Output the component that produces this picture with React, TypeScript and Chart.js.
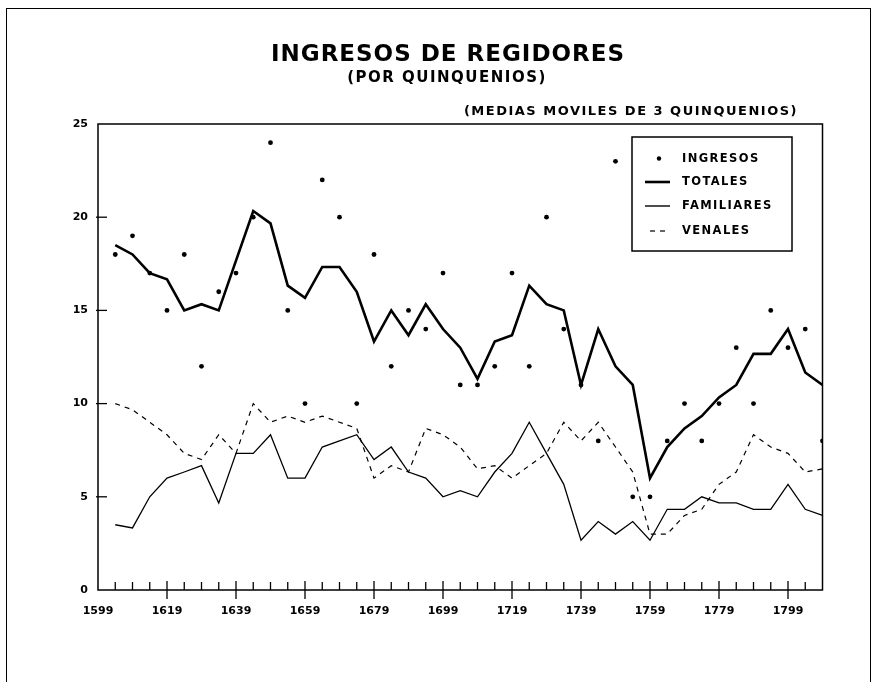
import React, { useEffect, useRef } from "react";
import { Chart, registerables } from "chart.js";

Chart.register(...registerables);

// Quinquennium end-years plotted on the x axis
const years = [
  1604, 1609, 1614, 1619, 1624, 1629, 1634, 1639, 1644, 1649, 1654, 1659, 1664, 1669,
  1674, 1679, 1684, 1689, 1694, 1699, 1704, 1709, 1714, 1719, 1724, 1729, 1734, 1739,
  1744, 1749, 1754, 1759, 1764, 1769, 1774, 1779, 1784, 1789, 1794, 1799, 1804, 1809,
];

// INGRESOS (dots)
const ingresos = [
  18, 19, 17, 15, 18, 12, 16, 17, 20, 24, 15, 10, 22, 20,
  10, 18, 12, 15, 14, 17, 11, 11, 12, 17, 12, 20, 14, 11,
  8, 23, 5, 5, 8, 10, 8, 10, 13, 10, 15, 13, 14, 8,
];

// TOTALES (thick line)
const totales = [
  18.5, 18, 17, 16.67, 15, 15.33, 15, 17.67, 20.33, 19.67, 16.33, 15.67, 17.33, 17.33,
  16, 13.33, 15, 13.67, 15.33, 14, 13, 11.33, 13.33, 13.67, 16.33, 15.33, 15, 11,
  14, 12, 11, 6, 7.67, 8.67, 9.33, 10.33, 11, 12.67, 12.67, 14, 11.67, 11,
];

// FAMILIARES (thin line)
const familiares = [
  3.5, 3.33, 5, 6, 6.33, 6.67, 4.67, 7.33, 7.33, 8.33, 6, 6, 7.67, 8,
  8.33, 7, 7.67, 6.33, 6, 5, 5.33, 5, 6.33, 7.33, 9, 7.33, 5.67, 2.67,
  3.67, 3, 3.67, 2.67, 4.33, 4.33, 5, 4.67, 4.67, 4.33, 4.33, 5.67, 4.33, 4,
];

// VENALES (dashed line)
const venales = [
  10, 9.67, 9, 8.33, 7.33, 7, 8.33, 7.33, 10, 9, 9.33, 9, 9.33, 9,
  8.67, 6, 6.67, 6.33, 8.67, 8.33, 7.67, 6.5, 6.67, 6, 6.67, 7.33, 9, 8,
  9, 7.67, 6.33, 3, 3, 4, 4.33, 5.67, 6.33, 8.33, 7.67, 7.33, 6.33, 6.5,
];

const xMin = 1599;
const xMax = 1809;
const xLabelYears = [1599, 1619, 1639, 1659, 1679, 1699, 1719, 1739, 1759, 1779, 1799];
const yTickValues = [0, 5, 10, 15, 20, 25];

const titleText = "INGRESOS DE REGIDORES";
const subtitleText = "(POR QUINQUENIOS)";
const noteText = "(MEDIAS MOVILES DE 3 QUINQUENIOS)";
const legendLabels = ["INGRESOS", "TOTALES", "FAMILIARES", "VENALES"];

const FONT = "'DejaVu Sans', 'Liberation Sans', sans-serif";

const decorPlugin = {
  id: "decor",
  afterDraw(chart: any) {
    const { ctx, chartArea: a, scales } = chart;
    const xs = scales.x;
    const ys = scales.y;
    ctx.save();
    ctx.strokeStyle = "#000";
    ctx.fillStyle = "#000";

    // outer frame
    ctx.lineWidth = 1;
    ctx.strokeRect(6.5, 8.5, 864, 720);

    // plot box
    ctx.lineWidth = 1.5;
    ctx.strokeRect(a.left, a.top, a.right - a.left, a.bottom - a.top);

    // x ticks (every quinquennium)
    ctx.lineWidth = 1.3;
    for (let v = xMin + 5; v < xMax; v += 5) {
      const px = xs.getPixelForValue(v);
      ctx.beginPath();
      if (xLabelYears.includes(v)) {
        ctx.moveTo(px, a.bottom - 9);
        ctx.lineTo(px, a.bottom + 9);
      } else {
        ctx.moveTo(px, a.bottom - 8);
        ctx.lineTo(px, a.bottom);
      }
      ctx.stroke();
    }
    // y ticks
    for (const v of yTickValues) {
      if (v === 0 || v === 25) continue;
      const py = ys.getPixelForValue(v);
      ctx.beginPath();
      ctx.moveTo(a.left - 2, py);
      ctx.lineTo(a.left + 9, py);
      ctx.stroke();
    }

    // titles
    (ctx as any).letterSpacing = "1px";
    ctx.textBaseline = "alphabetic";
    ctx.textAlign = "center";
    ctx.font = `bold 23px ${FONT}`;
    ctx.fillText(titleText, 448, 61);
    (ctx as any).letterSpacing = "1.5px";
    ctx.font = `bold 15px ${FONT}`;
    ctx.fillText(subtitleText, 447, 82);
    (ctx as any).letterSpacing = "1.5px";
    ctx.font = `bold 13px ${FONT}`;
    ctx.textAlign = "right";
    ctx.fillText(noteText, 798, 115);

    // legend box
    const bx = 632, by = 137, bw = 160, bh = 114;
    ctx.lineWidth = 1.5;
    ctx.strokeRect(bx, by, bw, bh);
    const rows = [159.5, 182, 206, 231];
    ctx.textAlign = "left";
    ctx.textBaseline = "middle";
    ctx.font = `bold 11.5px ${FONT}`;
    (ctx as any).letterSpacing = "1.4px";
    legendLabels.forEach((lab, i) => {
      const ry = rows[i];
      ctx.beginPath();
      if (i === 0) {
        ctx.arc(659, ry - 1, 2.2, 0, Math.PI * 2);
        ctx.fill();
      } else if (i === 1) {
        ctx.lineWidth = 2.6;
        ctx.setLineDash([]);
        ctx.moveTo(645, ry);
        ctx.lineTo(670, ry);
        ctx.stroke();
      } else if (i === 2) {
        ctx.lineWidth = 1.4;
        ctx.setLineDash([]);
        ctx.moveTo(645, ry);
        ctx.lineTo(670, ry);
        ctx.stroke();
      } else {
        ctx.lineWidth = 1.2;
        ctx.setLineDash([5, 5]);
        ctx.moveTo(650, ry);
        ctx.lineTo(670, ry);
        ctx.stroke();
        ctx.setLineDash([]);
      }
      ctx.fillText(lab, 682, ry);
    });
    ctx.restore();
  },
};

export default function App() {
  const canvasRef = useRef<HTMLCanvasElement | null>(null);

  useEffect(() => {
    const canvas = canvasRef.current;
    if (!canvas) return;
    const pts = (vals: number[]) => years.map((yr, i) => ({ x: yr, y: vals[i] }));
    const chart = new Chart(canvas, {
      type: "line",
      data: {
        datasets: [
          {
            label: "INGRESOS",
            data: pts(ingresos),
            showLine: false,
            pointRadius: 2.4,
            pointHoverRadius: 2.4,
            pointBackgroundColor: "#000",
            pointBorderWidth: 0,
            borderColor: "#000",
          },
          {
            label: "TOTALES",
            data: pts(totales),
            borderColor: "#000",
            borderWidth: 2.6,
            pointRadius: 0,
            tension: 0,
          },
          {
            label: "FAMILIARES",
            data: pts(familiares),
            borderColor: "#000",
            borderWidth: 1.3,
            pointRadius: 0,
            tension: 0,
          },
          {
            label: "VENALES",
            data: pts(venales),
            borderColor: "#000",
            borderWidth: 1.2,
            borderDash: [5, 5],
            pointRadius: 0,
            tension: 0,
          },
        ],
      },
      options: {
        animation: false,
        responsive: false,
        devicePixelRatio: 1,
        layout: { padding: { left: 0, right: 56.5, top: 124, bottom: 0 } },
        plugins: {
          legend: { display: false },
          title: { display: false },
          tooltip: { enabled: false },
        },
        scales: {
          x: {
            type: "linear",
            min: xMin,
            max: xMax,
            grid: { display: false, drawTicks: false },
            border: { display: false },
            afterFit: (s: any) => {
              s.height = 92;
            },
            afterBuildTicks: (s: any) => {
              s.ticks = xLabelYears.map((v) => ({ value: v }));
            },
            ticks: {
              autoSkip: false,
              maxRotation: 0,
              padding: 15,
              color: "#000",
              font: { family: FONT, weight: "bold", size: 11 },
              callback: (v: any) => String(v),
            },
          },
          y: {
            min: 0,
            max: 25,
            grid: { display: false, drawTicks: false },
            border: { display: false },
            afterFit: (s: any) => {
              s.width = 98;
            },
            afterBuildTicks: (s: any) => {
              s.ticks = yTickValues.map((v) => ({ value: v }));
            },
            ticks: {
              padding: 10,
              color: "#000",
              font: { family: FONT, weight: "bold", size: 11 },
              callback: (v: any) => String(v),
            },
          },
        },
      },
      plugins: [decorPlugin],
    });
    return () => chart.destroy();
  }, []);

  return (
    <div style={{ position: "fixed", left: 0, top: 0, width: 879, height: 682, background: "#fff" }}>
      <canvas ref={canvasRef} width={879} height={682} style={{ display: "block" }} />
    </div>
  );
}
